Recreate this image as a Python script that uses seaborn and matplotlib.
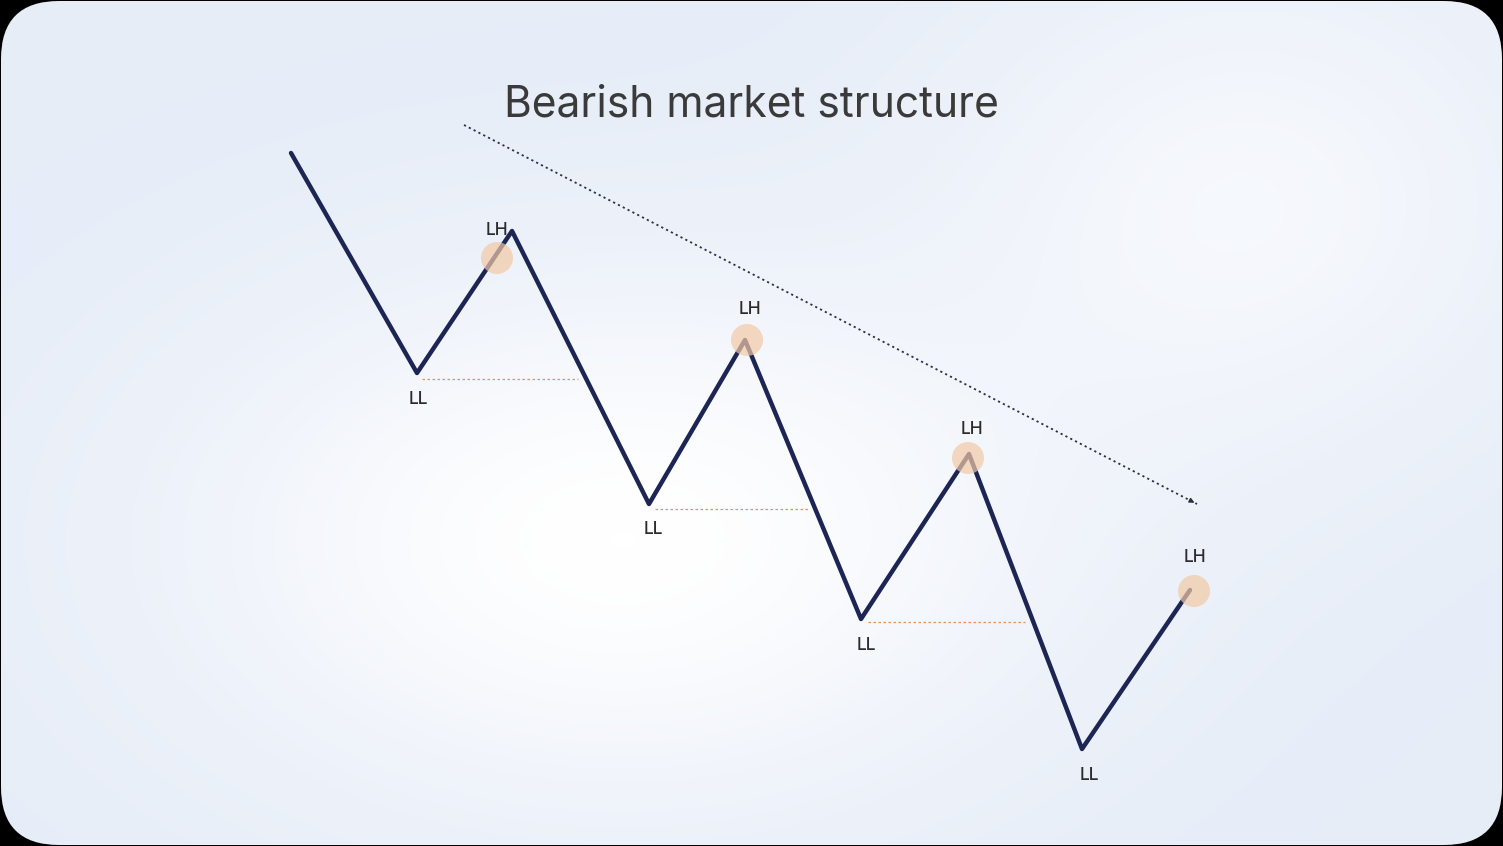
import numpy as np
import pandas as pd
import matplotlib
matplotlib.use("Agg")
import matplotlib.pyplot as plt
from matplotlib.patches import FancyBboxPatch, Circle
import seaborn as sns

# Zigzag price path (pixel-space coordinates)
path_x = [291, 417, 512, 649, 745, 861, 969, 1082, 1190]
path_y = [153, 373, 231, 504, 340, 619, 454, 749, 590]

# Labels
ll_x = [418, 653, 866, 1089]
ll_y = [399, 529, 645, 776]
lh_x = [497, 750, 972, 1195]
lh_y = [230, 309, 429, 558]
lh_circle_x = [497, 747, 968, 1194]
lh_circle_y = [258, 340, 458, 591]

# Dotted break levels
lvl_y = [379, 509, 622]
lvl_x0 = [422, 655, 868]
lvl_x1 = [578, 810, 1025]

# Trend line
trend_x = [464, 1197]
trend_y = [125, 504]

title = "Bearish market structure"

sns.set_theme(style="white")
plt.rcParams['font.family'] = ['Inter', 'DejaVu Sans']

W, H = 1503, 846
fig = plt.figure(figsize=(W / 100, H / 100), dpi=100)
fig.patch.set_facecolor("black")
ax = fig.add_axes([0, 0, 1, 1])
ax.set_xlim(0, W)
ax.set_ylim(H, 0)
ax.axis("off")
ax.set_facecolor("black")

# gradient background
yy, xx = np.mgrid[0:H:2, 0:W:2]
base = np.array([0.905, 0.930, 0.972])
white = np.array([1.0, 1.0, 1.0])
g1 = np.exp(-(((xx - 620) / 420) ** 2 + ((yy - 540) / 260) ** 2))
g2 = np.exp(-(((xx - 1250) / 300) ** 2 + ((yy - 200) / 250) ** 2)) * 0.6
g = np.clip(g1 + g2, 0, 1)[..., None]
img = base * (1 - g) + white * g
im = ax.imshow(img, extent=[0, W, H, 0], zorder=0, interpolation="bilinear")
card = FancyBboxPatch((1, 1), W - 2, H - 2, boxstyle="round,pad=0,rounding_size=58",
                      facecolor="none", edgecolor="none", transform=ax.transData)
ax.add_patch(card)
im.set_clip_path(card)

df = pd.DataFrame({"x": path_x, "y": path_y})
sns.lineplot(data=df, x="x", y="y", sort=False, ax=ax, color="#1c2554",
             linewidth=3.2, zorder=3, estimator=None)
ax.set_xlim(0, W)
ax.set_ylim(H, 0)
ax.axis("off")

for cx, cy in zip(lh_circle_x, lh_circle_y):
    ax.add_patch(Circle((cx, cy), 16, facecolor="#f2c9a6", alpha=0.7,
                        edgecolor="none", zorder=4))

for y, x0, x1 in zip(lvl_y, lvl_x0, lvl_x1):
    ax.plot([x0, x1], [y, y], linestyle=(0, (2, 2)), color="#e8905a",
            linewidth=0.9, zorder=2)

ax.plot(trend_x, trend_y, linestyle=(0, (1.2, 1.8)), color="#2a2f45",
        linewidth=1.3, zorder=2)
ax.annotate("", xy=(trend_x[1], trend_y[1]), xytext=(trend_x[1] - 8, trend_y[1] - 4.1),
            arrowprops=dict(arrowstyle="-|>", color="#2a2f45", lw=1,
                            mutation_scale=7), zorder=2)

for x, y in zip(ll_x, ll_y):
    ax.text(x, y, "LL", ha="center", va="center", fontsize=12.5,
            color="#2b2b2b", fontweight="medium", zorder=5)
for x, y in zip(lh_x, lh_y):
    ax.text(x, y, "LH", ha="center", va="center", fontsize=12.5,
            color="#2b2b2b", fontweight="medium", zorder=5)

ax.text(751, 105, title, ha="center", va="center", fontsize=30.6,
        color="#3a3a3a", zorder=5)

fig.savefig("out.png", dpi=100, facecolor="black")
